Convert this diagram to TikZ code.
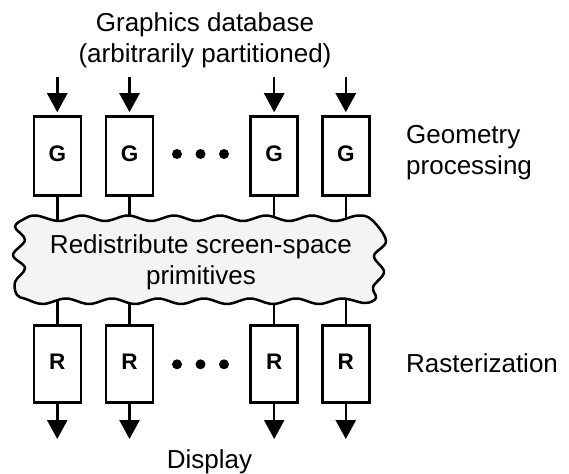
\documentclass[tikz,border=0pt]{standalone}
\usepackage{fontspec}
\setmainfont{Liberation Sans}
\usetikzlibrary{arrows.meta}
\definecolor{cloudgray}{HTML}{F4F4F4}
\begin{document}
\begin{tikzpicture}[x=1pt,y=-1pt,
  lbl/.style={font=\fontsize{26}{31}\selectfont, inner sep=0pt},
  pbox/.style={draw, line width=2.5pt, minimum width=47pt, inner sep=0pt, font=\fontsize{22.5}{27}\selectfont\bfseries, text depth=5pt},
  gbox/.style={pbox, minimum height=79pt},
  rbox/.style={pbox, minimum height=77pt},
  arr/.style={line width=2.5pt, -{Triangle[width=20pt,length=19pt]}},
  link/.style={line width=2.5pt},
  dot/.style={circle, fill, inner sep=0pt, minimum size=10pt},
  cloudline/.style={fill=cloudgray, draw, line width=2.5pt, line join=round},
]
\useasboundingbox (0,0) rectangle (569,473);

% processors
\foreach \i/\x in {1/57.25, 2/129.5, 3/274.2, 4/345.8}{
  \coordinate (in\i) at (\x,77);
  \coordinate (out\i) at (\x,439);
  \node[gbox] (g\i) at (\x,156) {G};
  \node[rbox] (r\i) at (\x,364) {R};
}

% links through the redistribution stage
\foreach \i in {1,...,4}{
  \draw[link] (g\i) -- (r\i);
  \draw[arr, shorten >=3pt] (in\i) -- (g\i);
  \draw[arr] (r\i) -- (out\i);
}

% ellipsis dots
\foreach \j/\x in {1/177, 2/200.5, 3/224}{
  \node[dot] (gd\j) at (\x,154) {};
  \node[dot] (rd\j) at (\x,364.3) {};
}

% cloud
\draw[cloudline] plot[smooth cycle, tension=0.6] coordinates {
  (24,219) (36,215.5) (59,221) (82,215.5) (105,221) (128,215.5) (151,221)
  (174,215.5) (197,221) (220,215.5) (243,221) (266,215.5) (289,221)
  (312,215.5) (335,221) (358,215.5) (372,220)
  (386,241) (374,256) (384,272) (373,287) (376,298)
  (365,303) (342,298.5) (319,304) (296,298.5) (273,304) (250,298.5)
  (227,304) (204,298.5) (181,304) (158,298.5) (135,304) (112,298.5)
  (89,304) (66,298.5) (43,304) (26,299)
  (17,295) (15,282) (25,268) (13,255) (25,240) (15,227)
};
\node[lbl, align=center] (cloud) at (201,262.3) {Redistribute screen-space\\primitives};

% labels
\node[lbl, align=center] (db) at (205,40) {Graphics database\\(arbitrarily partitioned)};
\node[lbl, align=left, anchor=west] (geo) at (406,153) {Geometry\\processing};
\node[lbl, anchor=base west] (ras) at (406,372) {Rasterization};
\node[lbl, anchor=base] (disp) at (209.5,468) {Display};
\end{tikzpicture}
\end{document}
